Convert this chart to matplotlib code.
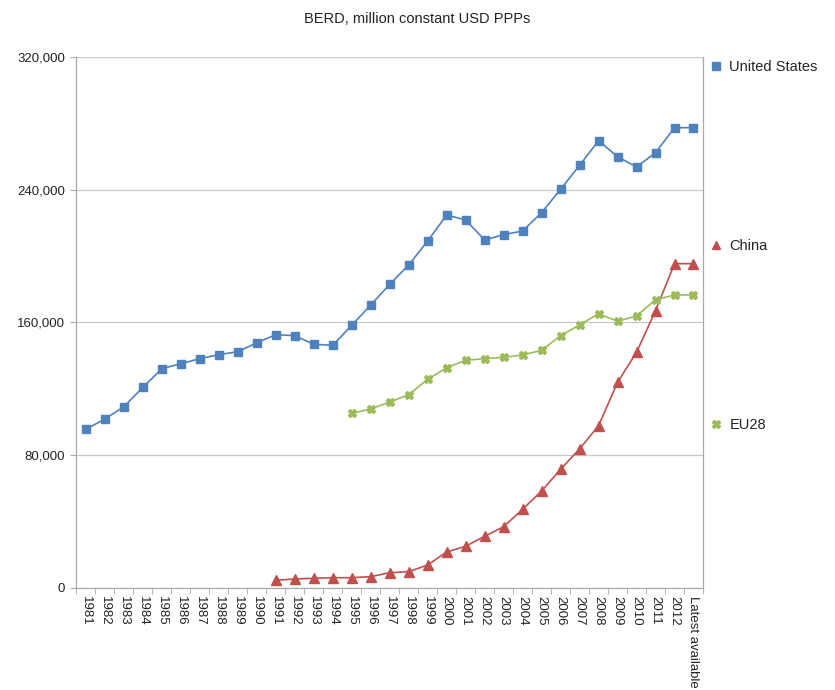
import matplotlib
matplotlib.use("Agg")
import matplotlib.pyplot as plt
import numpy as np

plt.rcParams['font.family'] = ['Liberation Sans', 'DejaVu Sans']

categories = [str(y) for y in range(1981, 2013)] + ["Latest available"]

us = [95570, 101780, 109200, 120900, 132130, 135140, 138160, 140570, 142380, 147810,
      152640, 152040, 146830, 146230, 158300, 170550, 183050, 194690, 209170, 224850,
      221830, 209770, 212970, 215200, 226240, 240350, 254830, 269670, 260020, 253810,
      262440, 277520, 277520]

china = [None] * 10 + [4460, 5250, 5670, 6030, 6030, 6640, 9050, 9650, 13700, 21540,
         24980, 31010, 36800, 47300, 58340, 71430, 83680, 97740, 123900, 142010,
         167110, 195470, 195470]

eu28 = [None] * 14 + [105210, 107810, 112000, 116440, 125720, 132730, 137190, 138160,
        138990, 140390, 143220, 152040, 158490, 165300, 160720, 163910, 173750,
        176580, 176580]

yticks = [0, 80000, 160000, 240000, 320000]
ytick_labels = ["0", "80,000", "160,000", "240,000", "320,000"]

def to_arr(v):
    return np.array([np.nan if x is None else x for x in v], dtype=float)

fig = plt.figure(figsize=(8.35, 6.9), dpi=100)
ax = fig.add_axes([0.0916, 0.1483, 0.7503, 0.7687])

x = np.arange(len(categories))
ax.plot(x, to_arr(us), color="#4F81BD", lw=1.2, marker="s", ms=6, mec="#4F81BD",
        mfc="#4F81BD", label="United States")
ax.plot(x, to_arr(china), color="#C0504D", lw=1.2, marker="^", ms=6.5, mec="#C0504D",
        mfc="#C0504D", label="China")
ax.plot(x, to_arr(eu28), color="#9BBB59", lw=1.2, marker="X", ms=5.5, mec="#9BBB59",
        mfc="#9BBB59", label="EU28")

ax.set_xlim(-0.5, len(categories) - 0.5)
ax.set_ylim(0, 320000)
ax.set_yticks(yticks)
ax.set_yticklabels(ytick_labels, fontsize=9.5, color="#222222")
ax.grid(axis="y", color="#c8c8c8", lw=0.9)
ax.set_axisbelow(True)

ax.set_xticks(x)
ax.set_xticklabels(categories, rotation=270, fontsize=9.5, color="#222222",
                   va="top", ha="center")
ax.set_xticks(np.arange(-0.5, len(categories)), minor=True)
ax.tick_params(axis="x", which="major", length=0, pad=6)
ax.tick_params(axis="x", which="minor", length=4, color="#aaaaaa", direction="out")
ax.tick_params(axis="y", length=4, color="#aaaaaa", direction="out", pad=4)

for s in ["left", "bottom", "right"]:
    ax.spines[s].set_color("#aaaaaa")
    ax.spines[s].set_linewidth(0.9)
ax.spines["top"].set_visible(False)

fig.suptitle("BERD, million constant USD PPPs", x=0.5, y=0.983, fontsize=10.5,
             color="#222222")

leg = ax.legend(loc="upper left", bbox_to_anchor=(1.005, 1.005), frameon=False,
                fontsize=10.5, labelspacing=11.3, handlelength=0.6, handletextpad=0.6,
                borderaxespad=0)
for h in leg.legend_handles:
    h.set_linestyle("none")
    h.set_markersize(5.5)
for t in leg.get_texts():
    t.set_color("#222222")

fig.savefig("out.png", dpi=100)
